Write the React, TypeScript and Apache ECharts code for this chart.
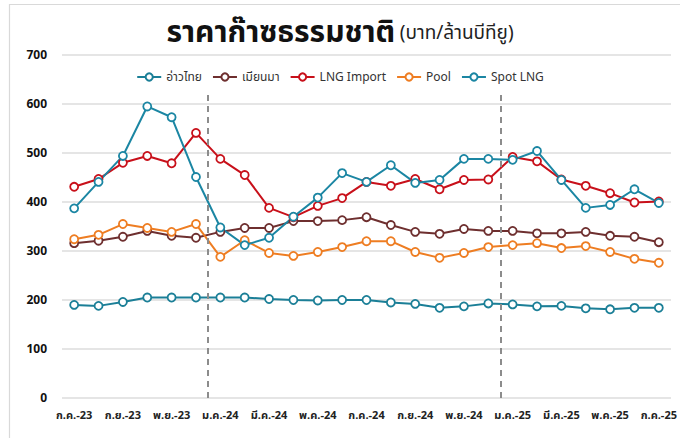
import React, { useEffect, useRef } from "react";
import * as echarts from "echarts";

const categories = [
  "ก.ค.-23", "ส.ค.-23", "ก.ย.-23", "ต.ค.-23", "พ.ย.-23", "ธ.ค.-23",
  "ม.ค.-24", "ก.พ.-24", "มี.ค.-24", "เม.ย.-24", "พ.ค.-24", "มิ.ย.-24",
  "ก.ค.-24", "ส.ค.-24", "ก.ย.-24", "ต.ค.-24", "พ.ย.-24", "ธ.ค.-24",
  "ม.ค.-25", "ก.พ.-25", "มี.ค.-25", "เม.ย.-25", "พ.ค.-25", "มิ.ย.-25",
  "ก.ค.-25",
];

const gulfOfThailand = [190, 188, 196, 205, 205, 205, 205, 205, 202, 200, 199, 200, 200, 195, 192, 184, 187, 193, 191, 187, 188, 183, 181, 184, 184];
const myanmar = [316, 321, 329, 341, 331, 327, 339, 347, 347, 361, 361, 363, 369, 353, 339, 335, 345, 341, 341, 336, 336, 339, 331, 329, 318];
const lngImport = [431, 447, 480, 494, 479, 541, 488, 455, 388, 369, 392, 408, 441, 433, 447, 426, 445, 446, 492, 483, 446, 433, 418, 399, 401];
const pool = [324, 333, 355, 347, 339, 355, 288, 322, 296, 290, 298, 308, 320, 320, 298, 286, 296, 308, 312, 316, 306, 310, 298, 284, 276];
const spotLng = [387, 441, 494, 595, 573, 451, 348, 312, 327, 370, 409, 459, 441, 475, 439, 445, 488, 488, 486, 504, 445, 388, 394, 426, 398];

const seriesNames = ["อ่าวไทย", "เมียนมา", "LNG Import", "Pool", "Spot LNG"];
const seriesColors = ["#1b7f97", "#6e2f2f", "#c8101a", "#ee7d22", "#1b86a3"];
const yTicks = { min: 0, max: 700, interval: 100 };
// dividers between Dec/Jan on a 0..25 scale (category i spans [i, i+1])
const dividerPositions = [6, 18];
const dividerTop = 620;

const FONT = "'Noto Sans Thai', 'Noto Sans', 'DejaVu Sans', sans-serif";

export default function App() {
  const ref = useRef<HTMLDivElement>(null);
  useEffect(() => {
    document.body.style.margin = "0";
    if (!ref.current) return;
    const chart = echarts.init(ref.current, undefined, { renderer: "svg" });
    const dataSets = [gulfOfThailand, myanmar, lngImport, pool, spotLng];
    const series: any[] = dataSets.map((d, i) => ({
      name: seriesNames[i],
      type: "line",
      data: d,
      symbol: "circle",
      symbolSize: 8,
      showSymbol: true,
      lineStyle: { width: 2, color: seriesColors[i] },
      itemStyle: { color: "#ffffff", borderColor: seriesColors[i], borderWidth: 1.8 },
      z: 3,
    }));
    series.push({
      type: "line",
      xAxisIndex: 1,
      data: [],
      silent: true,
      markLine: {
        silent: true,
        symbol: ["none", "none"],
        label: { show: false },
        lineStyle: { color: "#8c8c8c", type: [6, 5], width: 2 },
        data: dividerPositions.map((p) => [
          { coord: [p, 0] },
          { coord: [p, dividerTop] },
        ]),
      },
    });
    chart.setOption({
      animation: false,
      textStyle: { fontFamily: FONT },
      graphic: [
        {
          type: "rect",
          shape: { x: 9.5, y: 4.5, width: 700, height: 460 },
          style: { fill: "none", stroke: "#d9d9d9", lineWidth: 1.2 },
          silent: true,
        },
      ],
      title: {
        left: "center",
        top: 13,
        text: "{a|ราคาก๊าซธรรมชาติ} {b|(บาท/ล้านบีทียู)}",
        textStyle: {
          rich: {
            a: { fontSize: 30, fontWeight: "bold", color: "#111", fontFamily: FONT },
            b: { fontSize: 19, fontWeight: "normal", color: "#222", fontFamily: FONT },
          },
        },
      },
      legend: {
        top: 66,
        left: "center",
        data: seriesNames,
        itemWidth: 24,
        itemHeight: 9,
        itemGap: 10,
        textStyle: { fontSize: 12, color: "#333", fontFamily: FONT },
      },
      grid: { left: 62, right: 9, top: 55, bottom: 40, containLabel: false },
      xAxis: [
        {
          type: "category",
          data: categories,
          boundaryGap: true,
          axisLine: { show: false },
          axisTick: { show: false },
          axisLabel: {
            interval: 1,
            fontSize: 11,
            fontWeight: "bold",
            color: "#222",
            margin: 12,
          },
        },
        {
          type: "value",
          min: 0,
          max: categories.length,
          show: false,
        },
      ],
      yAxis: {
        type: "value",
        min: yTicks.min,
        max: yTicks.max,
        interval: yTicks.interval,
        axisLine: { show: false },
        axisTick: { show: false },
        splitLine: { lineStyle: { color: "#dcdcdc", width: 1.5 } },
        axisLabel: { fontSize: 12, fontWeight: "bold", color: "#111", margin: 15 },
      },
      series,
    });
    return () => chart.dispose();
  }, []);
  return <div ref={ref} style={{ width: 680, height: 438 }} />;
}
